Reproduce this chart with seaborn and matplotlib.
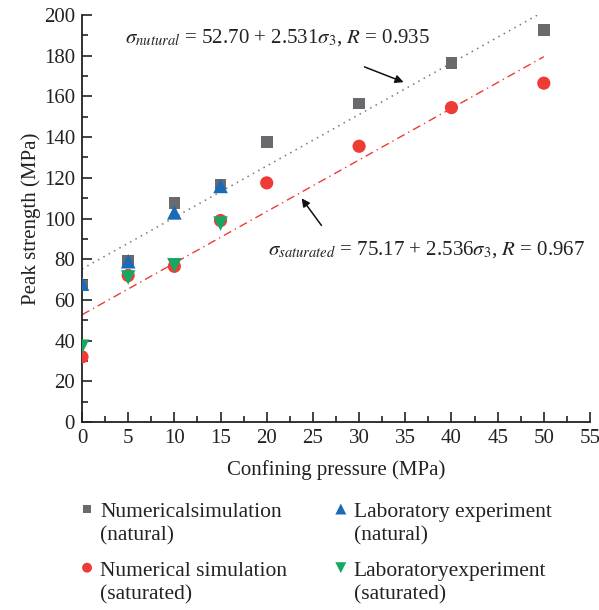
import matplotlib
matplotlib.use("Agg")
import matplotlib.pyplot as plt
import seaborn as sns
import pandas as pd
from matplotlib.ticker import MultipleLocator

# ---- data ----
num_x = [0, 5, 10, 15, 20, 30, 40, 50]
num_natural = [67, 79, 107.5, 116.5, 137.5, 156.5, 176.5, 192.5]
num_saturated = [32, 72, 76.5, 99, 117.5, 135.5, 154.5, 166.5]
lab_x = [0, 5, 10, 15]
lab_natural = [68, 79, 103, 116]
lab_saturated = [37, 71, 77, 97.5]
fit_x = [0, 50]
fit_natural = [75.2, 201.7]
fit_saturated = [52.7, 179.5]

labels = ["Numericalsimulation\n(natural)", "Numerical simulation\n(saturated)",
          "Laboratory experiment\n(natural)", "Laboratoryexperiment\n(saturated)"]

sns.set_theme(style="ticks")
plt.rcParams['font.family'] = ['Liberation Serif', 'DejaVu Serif']
plt.rcParams['mathtext.fontset'] = 'stix'

fig = plt.figure(figsize=(5.99, 6.10), dpi=100)
ax = fig.add_axes([82/599, 1-422/610, (590-82)/599, (422-15)/610])

grey = "#6a6a6e"
blue = "#1a6ab8"
red = "#ee3b36"
green = "#15a862"
ink = "#222222"

sns.lineplot(x=fit_x, y=fit_natural, ax=ax, color="#777777", linestyle=(0, (1, 3)), linewidth=1.1)
sns.lineplot(x=fit_x, y=fit_saturated, ax=ax, color=red, linestyle=(0, (6, 3, 1, 3)), linewidth=1.0)

sns.scatterplot(x=num_x, y=num_natural, ax=ax, marker="s", s=70, color=grey, edgecolor="none", label=labels[0], zorder=3)
sns.scatterplot(x=num_x, y=num_saturated, ax=ax, marker="o", s=90, color=red, edgecolor="none", label=labels[1], zorder=3)
sns.scatterplot(x=lab_x, y=lab_natural, ax=ax, marker="^", s=110, color=blue, edgecolor="none", label=labels[2], zorder=4)
sns.scatterplot(x=lab_x, y=lab_saturated, ax=ax, marker="v", s=110, color=green, edgecolor="none", label=labels[3], zorder=4)

ax.set_xlim(0, 55)
ax.set_ylim(0, 200)
ax.xaxis.set_major_locator(MultipleLocator(5))
ax.xaxis.set_minor_locator(MultipleLocator(2.5))
ax.yaxis.set_major_locator(MultipleLocator(20))
ax.yaxis.set_minor_locator(MultipleLocator(10))
ax.tick_params(which="major", direction="in", length=7, width=1.2, labelsize=15, colors=ink, pad=5)
ax.tick_params(which="minor", direction="in", length=4, width=1.2, colors=ink)
for s in ["top", "right"]:
    ax.spines[s].set_visible(False)
for s in ["left", "bottom"]:
    ax.spines[s].set_linewidth(1.3)
    ax.spines[s].set_color(ink)

ax.set_xlabel("Confining pressure (MPa)", fontsize=15, color=ink, labelpad=9)
ax.set_ylabel("Peak strength (MPa)", fontsize=15, color=ink, labelpad=2)

ax.text(4.7, 189, r"$\sigma_{nutural}$ = 52.70 + 2.531$\sigma_3$, $R$ = 0.935",
        fontsize=15, va="center", ha="left", color=ink)
ax.text(20.1, 84.5, r"$\sigma_{saturated}$ = 75.17 + 2.536$\sigma_3$, $R$ = 0.967",
        fontsize=15, va="center", ha="left", color=ink)
ax.annotate("", xy=(35.1, 166.5), xytext=(30.3, 175),
            arrowprops=dict(arrowstyle="-|>", color="#111111", lw=1.1, mutation_scale=12))
ax.annotate("", xy=(23.6, 111), xytext=(26.1, 95.5),
            arrowprops=dict(arrowstyle="-|>", color="#111111", lw=1.1, mutation_scale=12))

handles, labs = ax.get_legend_handles_labels()
ax.legend_.remove()
leg = fig.legend(handles, labs, ncol=2, loc="upper left", bbox_to_anchor=(58/599, 1-484/610),
                 frameon=False, fontsize=15.5, handletextpad=0.15, columnspacing=2.05,
                 labelspacing=0.75, markerscale=0.75, handlelength=0.9, labelcolor=ink,
                 scatteryoffsets=[1.5])
for t in leg.get_texts():
    t.set_linespacing(1.3)

fig.savefig("out.png", dpi=100)
